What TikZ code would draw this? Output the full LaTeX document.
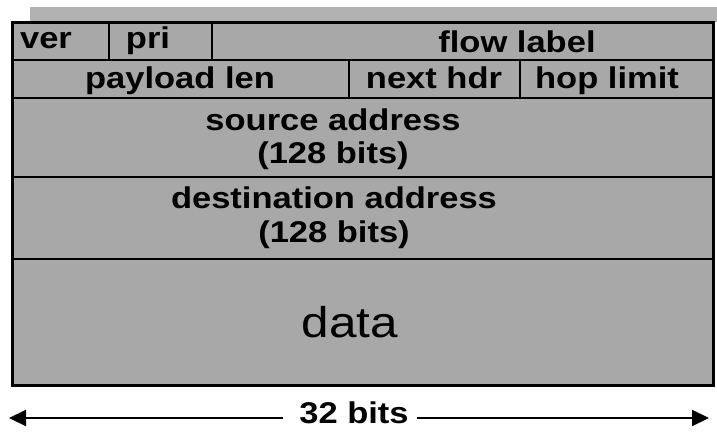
\documentclass[tikz,border=0pt]{standalone}
\usepackage{fontspec}
\setmainfont{Liberation Sans}
\newfontfamily\hdrfont[FakeStretch=1.15]{Liberation Sans}
\usetikzlibrary{arrows.meta}
\definecolor{cellgray}{RGB}{168,168,168}
\definecolor{stripgray}{RGB}{178,178,178}
\tikzset{
  fieldtext/.style={anchor=base, inner sep=0pt, font=\hdrfont\bfseries\fontsize{30}{34}\selectfont},
  datatext/.style={anchor=base, inner sep=0pt, font=\hdrfont\fontsize{43}{48}\selectfont},
  grid line/.style={line width=2pt, black},
  frame line/.style={line width=3pt, black},
  width arrow/.style={line width=2pt, -{Triangle[length=17pt,width=16pt]}},
}
\begin{document}
\begin{tikzpicture}[x=1pt, y=-1pt]
\useasboundingbox (0,0) rectangle (717,431);
% light strip above the header
\fill[stripgray] (30,7) rectangle (717,22);
% header body
\fill[cellgray] (12,22) rectangle (713,385);
% row separators
\draw[grid line] (12,60) -- (713,60);
\draw[grid line] (12,98) -- (713,98);
\draw[grid line] (12,177) -- (713,177);
\draw[grid line] (12,259) -- (713,259);
% field separators
\draw[grid line] (109,22) -- (109,60);
\draw[grid line] (212,22) -- (212,60);
\draw[grid line] (349,60) -- (349,98);
\draw[grid line] (520,60) -- (520,98);
% outer frame
\draw[frame line] (12,22) rectangle (713,385);
% field labels
\node[fieldtext] (ver) at (46,48) {ver};
\node[fieldtext] (pri) at (148,48) {pri};
\node[fieldtext] (flow) at (517,52) {flow label};
\node[fieldtext] (plen) at (180,88) {payload len};
\node[fieldtext] (nhdr) at (434,88) {next hdr};
\node[fieldtext] (hop) at (607,88) {hop limit};
\node[fieldtext] (src) at (333,130) {source address};
\node[fieldtext] (srcbits) at (333,163) {(128 bits)};
\node[fieldtext] (dst) at (334,208) {destination address};
\node[fieldtext] (dstbits) at (334,242) {(128 bits)};
\node[datatext] (data) at (350,337) {data};
% width indicator
\node[fieldtext, anchor=base] (bits) at (354,423) {32 bits};
\coordinate (leftend) at (9,418);
\coordinate (rightend) at (709,418);
\draw[width arrow] ([xshift=-16pt]bits.west |- leftend) -- (leftend);
\draw[width arrow] ([xshift=8pt]bits.east |- rightend) -- (rightend);
\end{tikzpicture}
\end{document}
